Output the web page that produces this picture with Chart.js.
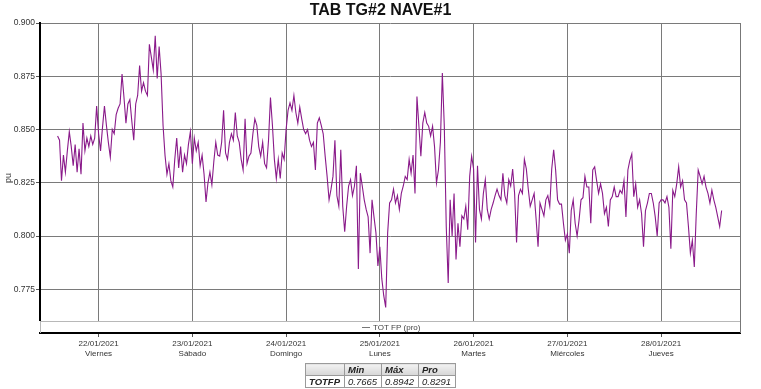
<!DOCTYPE html>
<html>
<head>
<meta charset="utf-8">
<script src="https://cdn.jsdelivr.net/npm/chart.js@4.4.1/dist/chart.umd.min.js"></script>
<style>
  body { margin: 0; background: #fff; font-family: "Liberation Sans", Arial, sans-serif; }
  #wrap { position: relative; width: 761px; height: 389px; }
  #title { position: absolute; left: 0; width: 761px; top: 1px; text-align: center;
           font-weight: bold; font-size: 16px; color: #111; }
  #stats { position: absolute; left: 305px; top: 363px; border-collapse: collapse;
           font-size: 9.5px; font-style: italic; color: #222; }
  #stats td { border: 1px solid #9a9a9a; padding: 0 3px; height: 11px; line-height: 11px; }
  #stats tr.head td { background: linear-gradient(#f2f2f2, #d6d6d6); font-weight: bold; }
  #stats td.name { font-weight: bold; width: 32px; }
  #stats td.val { width: 30px; }
</style>
</head>
<body>
<div id="wrap">
  <canvas id="tfp-chart" width="761" height="389"></canvas>
  <div id="title">TAB TG#2 NAVE#1</div>
  <table id="stats"></table>
</div>
<script>
// x axis: hours counted from 21/01/2021 00:00
var dayHours = [24, 48, 72, 96, 120, 144, 168];
var dayDates = ['22/01/2021', '23/01/2021', '24/01/2021', '25/01/2021', '26/01/2021', '27/01/2021', '28/01/2021'];
var dayNames = ['Viernes', 'Sábado', 'Domingo', 'Lunes', 'Martes', 'Miércoles', 'Jueves'];
var yTicks = [0.775, 0.800, 0.825, 0.850, 0.875, 0.900];

// TOT FP (pro), one reading every half hour
var startHour = 13.5;
var stepHours = 0.5;
var totFp = [
  // 21/01 afternoon - 23/01
  0.847, 0.845, 0.826, 0.838, 0.830, 0.840, 0.849, 0.842, 0.833, 0.843,
  0.830, 0.841, 0.829, 0.853, 0.840, 0.846, 0.842, 0.847, 0.843, 0.846,
  0.861, 0.848, 0.840, 0.851, 0.861, 0.852, 0.844, 0.837, 0.850, 0.848,
  0.857, 0.860, 0.862, 0.876, 0.865, 0.853, 0.862, 0.864, 0.854, 0.845,
  0.862, 0.866, 0.880, 0.868, 0.872, 0.868, 0.866, 0.890, 0.884, 0.878,
  0.894, 0.874, 0.889, 0.876, 0.852, 0.838, 0.829, 0.834, 0.826, 0.823,
  0.836, 0.846, 0.832, 0.842, 0.830, 0.838, 0.834, 0.843, 0.849, 0.834,
  0.846, 0.840, 0.844, 0.833, 0.838, 0.829, 0.816, 0.825, 0.830, 0.824,
  0.835, 0.844, 0.838,
  // 23/01 - 25/01
  0.8375, 0.844, 0.859, 0.839, 0.836, 0.844, 0.848, 0.845, 0.858, 0.847,
  0.844, 0.836, 0.831, 0.855, 0.834, 0.8375, 0.839, 0.848, 0.855, 0.852,
  0.842, 0.8375, 0.844, 0.834, 0.832, 0.845, 0.865, 0.852, 0.836, 0.827,
  0.836, 0.827, 0.839, 0.836, 0.850, 0.859, 0.8625, 0.859, 0.866, 0.858,
  0.853, 0.8605, 0.855, 0.850, 0.848, 0.850, 0.845, 0.842, 0.844, 0.831,
  0.853, 0.8555, 0.852, 0.848, 0.8375, 0.828, 0.817, 0.822, 0.828, 0.845,
  0.819, 0.814, 0.8405, 0.814, 0.802, 0.814, 0.8235, 0.8265, 0.819, 0.8235,
  0.833, 0.7845, 0.8295, 0.8235, 0.817, 0.8125, 0.809, 0.792, 0.817, 0.809,
  0.8015, 0.786, 0.795, 0.780,
  // 25/01 - 26/01
  0.772, 0.7665, 0.8015, 0.8155, 0.817, 0.822,
  0.8155, 0.819, 0.8125, 0.820, 0.8235, 0.828, 0.8265, 0.836, 0.8295, 0.838,
  0.820, 0.8655, 0.8515, 0.8375, 0.853, 0.858, 0.853, 0.8515, 0.847, 0.8515,
  0.842, 0.825, 0.831, 0.844, 0.8765, 0.8515, 0.8045, 0.778, 0.817, 0.800,
  0.820, 0.789, 0.806, 0.795, 0.8095, 0.808, 0.814, 0.803, 0.828, 0.8375,
  0.8315, 0.797, 0.833, 0.8125, 0.808, 0.820, 0.8265, 0.8125, 0.808, 0.8125,
  0.8155, 0.819, 0.822, 0.819, 0.817, 0.8295, 0.819, 0.8155, 0.8265, 0.8235,
  0.8315, 0.820, 0.797, 0.819, 0.822, 0.820, 0.836, 0.8315, 0.822, 0.814,
  0.817, 0.820, 0.808, 0.795, 0.8155, 0.8125, 0.8095, 0.817, 0.819, 0.814,
  0.8315, 0.8405,
  // 26/01 evening - 28/01
  0.831, 0.817, 0.815, 0.815, 0.806, 0.798, 0.801, 0.792,
  0.812, 0.817, 0.806, 0.800, 0.8075, 0.817, 0.818, 0.828, 0.823, 0.823,
  0.806, 0.831, 0.8325, 0.826, 0.820, 0.8245, 0.820, 0.8105, 0.8135, 0.8045,
  0.817, 0.8185, 0.823, 0.8185, 0.8185, 0.8215, 0.820, 0.826, 0.809, 0.831,
  0.8355, 0.8385, 0.8185, 0.8245, 0.8135, 0.817, 0.8105, 0.795, 0.812, 0.8155,
  0.820, 0.820, 0.8155, 0.809, 0.800, 0.8155, 0.817, 0.817, 0.8155, 0.8185,
  0.8135, 0.794, 0.8215, 0.8185, 0.8245, 0.8325, 0.823, 0.826, 0.817, 0.8155,
  0.8045, 0.792, 0.798, 0.7855, 0.8105, 0.831, 0.828, 0.8245, 0.828, 0.823,
  0.820, 0.8155, 0.8215, 0.817, 0.8135, 0.809, 0.8045, 0.812
];

// summary table under the chart
var statSeries = 'TOTFP';
var statNames = ['Min', 'Máx', 'Pro'];
var statValues = ['0.7665', '0.8942', '0.8291'];

var points = totFp.map(function(v, i) {
    return { x: startHour + i * stepHours, y: v };
});

// stats table
var table = document.getElementById('stats');
var html = '<tr class="head"><td class="name"></td>';
statNames.forEach(function(n) { html += '<td class="val">' + n + '</td>'; });
html += '</tr><tr><td class="name">' + statSeries + '</td>';
statValues.forEach(function(v) { html += '<td class="val">' + v + '</td>'; });
html += '</tr>';
table.innerHTML = html;

// legend strip inside the bottom of the plot box + right border
var boxPlugin = {
    id: 'boxPlugin',
    afterDatasetsDraw: function(chart) {
        var ctx = chart.ctx;
        var a = chart.chartArea;
        var bandTop = a.bottom - 12;
        ctx.save();
        ctx.fillStyle = '#fff';
        ctx.fillRect(a.left - 1, bandTop, a.right - a.left + 1, a.bottom - bandTop - 1);
        ctx.strokeStyle = '#b8b8b8';
        ctx.lineWidth = 1;
        ctx.beginPath();
        ctx.moveTo(a.left, bandTop + 0.5);
        ctx.lineTo(a.right, bandTop + 0.5);
        ctx.moveTo(a.left + 0.5, bandTop);
        ctx.lineTo(a.left + 0.5, a.bottom);
        ctx.stroke();
        ctx.strokeStyle = '#777';
        ctx.beginPath();
        ctx.moveTo(a.right + 0.5, a.top);
        ctx.lineTo(a.right + 0.5, a.bottom);
        ctx.stroke();
        // legend entry
        var ds = chart.data.datasets[0];
        var lx = 362, ly = bandTop + 6.5;
        ctx.strokeStyle = '#777';
        ctx.beginPath();
        ctx.moveTo(lx, ly);
        ctx.lineTo(lx + 8, ly);
        ctx.stroke();
        ctx.fillStyle = '#444';
        ctx.font = '8px "Liberation Sans", Arial, sans-serif';
        ctx.textBaseline = 'middle';
        ctx.fillText(ds.label, lx + 11, ly);
        ctx.restore();
    }
};

var ctx = document.getElementById('tfp-chart');

var chartOptions = {
    responsive: false,
    animation: false,
    layout: { padding: { left: 0, right: 21, top: 23, bottom: 0 } },
    plugins: {
        legend: { display: false },
        tooltip: { enabled: false }
    },
    scales: {
        x: {
            type: 'linear',
            min: 9,
            max: 188.2,
            afterBuildTicks: function(scale) {
                scale.ticks = dayHours.map(function(h) { return { value: h }; });
            },
            afterFit: function(scale) { scale.height = 56; },
            border: { color: '#000', width: 2 },
            grid: { color: '#7a7a7a', lineWidth: 1, tickLength: 4, tickColor: '#555' },
            ticks: {
                autoSkip: false,
                maxRotation: 0,
                padding: 2,
                color: '#333',
                font: { family: '"Liberation Sans", Arial, sans-serif', size: 8, lineHeight: 1.25 },
                callback: function(value, index) {
                    return [dayDates[index], dayNames[index]];
                }
            }
        },
        y: {
            min: 0.7545,
            max: 0.900,
            afterBuildTicks: function(scale) {
                scale.ticks = yTicks.map(function(v) { return { value: v }; });
            },
            afterFit: function(scale) { scale.width = 40; },
            border: { color: '#000', width: 2 },
            grid: { color: '#7a7a7a', lineWidth: 1, tickLength: 4, tickColor: '#555' },
            title: {
                display: true,
                text: 'pu',
                color: '#333',
                padding: { top: 3, bottom: 0 },
                font: { family: '"Liberation Sans", Arial, sans-serif', size: 9 }
            },
            ticks: {
                padding: 1,
                color: '#333',
                font: { family: '"Liberation Sans", Arial, sans-serif', size: 8.5 },
                callback: function(value) { return Number(value).toFixed(3); }
            }
        }
    }
};

var chartData = {
    datasets: [{
        label: 'TOT FP (pro)',
        data: points,
        borderColor: '#8a1a8a',
        borderWidth: 1.1,
        pointRadius: 0,
        tension: 0,
        fill: false
    }]
};

var tfpChart = new Chart(ctx, {
    type: 'line',
    data: chartData,
    options: chartOptions,
    plugins: [boxPlugin]
});
</script>
</body>
</html>
